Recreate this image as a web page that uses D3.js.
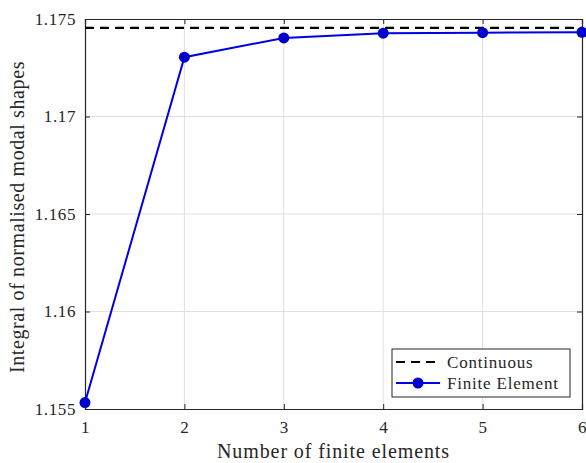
<!DOCTYPE html>
<html>
<head>
<meta charset="utf-8">
<script src="https://cdn.jsdelivr.net/npm/d3@7"></script>
<style>
  body { margin: 0; background: #fff; }
  svg text { font-family: "Liberation Serif", "DejaVu Serif", serif; fill: #262626; }
</style>
</head>
<body>
<div id="chart"></div>
<script>
// chart data
const elements = [1, 2, 3, 4, 5, 6];
const feValues = [1.15533, 1.17304, 1.17403, 1.17427, 1.1743, 1.17432];
const continuousValue = 1.17455;
const xTicks = [1, 2, 3, 4, 5, 6];
const yTicks = [1.155, 1.16, 1.165, 1.17, 1.175];

const width = 586, height = 463;
const margin = {top: 19, right: 4, bottom: 54, left: 85};
const w = width - margin.left - margin.right;
const h = height - margin.top - margin.bottom;
const serif = '"Liberation Serif", "DejaVu Serif", serif';

const svg = d3.select('#chart')
    .append('svg')
    .attr('width', width)
    .attr('height', height);

const g = svg.append('g')
    .attr('transform', `translate(${margin.left}, ${margin.top})`);

const x = d3.scaleLinear().domain([1, 6]).range([0, w]);
const y = d3.scaleLinear().domain([1.155, 1.175]).range([h, 0]);

// grid
g.append('g').selectAll('line')
    .data(xTicks.slice(1, -1))
    .enter().append('line')
    .attr('x1', d => x(d)).attr('x2', d => x(d))
    .attr('y1', 0).attr('y2', h)
    .attr('stroke', '#e0e0e0').attr('stroke-width', 1);
g.append('g').selectAll('line')
    .data(yTicks.slice(1, -1))
    .enter().append('line')
    .attr('x1', 0).attr('x2', w)
    .attr('y1', d => y(d)).attr('y2', d => y(d))
    .attr('stroke', '#e0e0e0').attr('stroke-width', 1);

// axes (ticks inward)
const fmtY = d => String(+d.toFixed(3));
g.append('g')
    .attr('transform', `translate(0, ${h})`)
    .call(d3.axisBottom(x).tickValues(xTicks).tickSize(-5).tickPadding(12).tickFormat(d3.format('d')));
g.append('g')
    .call(d3.axisLeft(y).tickValues(yTicks).tickSize(-5).tickPadding(9).tickFormat(fmtY));
g.append('g')
    .call(d3.axisTop(x).tickValues(xTicks).tickSize(-5).tickFormat(''));
g.append('g')
    .attr('transform', `translate(${w}, 0)`)
    .call(d3.axisRight(y).tickValues(yTicks).tickSize(-5).tickFormat(''));

g.selectAll('.domain').attr('stroke', '#262626').attr('stroke-width', 1.2);
g.selectAll('.tick line').attr('stroke', '#262626');
g.selectAll('.tick text')
    .attr('font-family', serif)
    .style('font-family', serif)
    .style('font-size', '17px')
    .style('letter-spacing', '0.6px')
    .attr('fill', '#262626');

// continuous reference line
g.append('line')
    .attr('x1', 0).attr('x2', w)
    .attr('y1', y(continuousValue)).attr('y2', y(continuousValue))
    .attr('stroke', '#000').attr('stroke-width', 2.2)
    .attr('stroke-dasharray', '9,6');

// finite element series
const line = d3.line()
    .x((d, i) => x(elements[i]))
    .y(d => y(d));
g.append('path')
    .datum(feValues)
    .attr('d', line)
    .attr('fill', 'none')
    .attr('stroke', '#0000e6')
    .attr('stroke-width', 2);
g.selectAll('circle.pt')
    .data(feValues)
    .enter().append('circle')
    .attr('class', 'pt')
    .attr('cx', (d, i) => x(elements[i]))
    .attr('cy', d => y(d))
    .attr('r', 5.5)
    .attr('fill', '#0000cc');

// axis labels
svg.append('text')
    .attr('x', margin.left + w / 2)
    .attr('y', 458)
    .attr('text-anchor', 'middle')
    .style('font-family', serif)
    .style('font-size', '20px')
    .style('letter-spacing', '0.9px')
    .text('Number of finite elements');
svg.append('text')
    .attr('transform', `translate(24, ${margin.top + h / 2 + 3}) rotate(-90)`)
    .attr('text-anchor', 'middle')
    .style('font-family', serif)
    .style('font-size', '20px')
    .style('letter-spacing', '0.6px')
    .text('Integral of normalised modal shapes');

// legend
const lg = svg.append('g').attr('transform', 'translate(392, 349)');
lg.append('rect')
    .attr('width', 178).attr('height', 48)
    .attr('fill', '#fff').attr('stroke', '#262626').attr('stroke-width', 1);
lg.append('line')
    .attr('x1', 4).attr('x2', 48).attr('y1', 13).attr('y2', 13)
    .attr('stroke', '#000').attr('stroke-width', 2.2).attr('stroke-dasharray', '9,6');
lg.append('text')
    .attr('x', 55).attr('y', 19)
    .style('font-family', serif)
    .style('font-size', '17px')
    .style('letter-spacing', '0.8px')
    .text('Continuous');
lg.append('line')
    .attr('x1', 4).attr('x2', 48).attr('y1', 34).attr('y2', 34)
    .attr('stroke', '#0000e6').attr('stroke-width', 2);
lg.append('circle')
    .attr('cx', 26).attr('cy', 34).attr('r', 5.5).attr('fill', '#0000cc');
lg.append('text')
    .attr('x', 55).attr('y', 40)
    .style('font-family', serif)
    .style('font-size', '17px')
    .style('letter-spacing', '0.8px')
    .text('Finite Element');
</script>
</body>
</html>
